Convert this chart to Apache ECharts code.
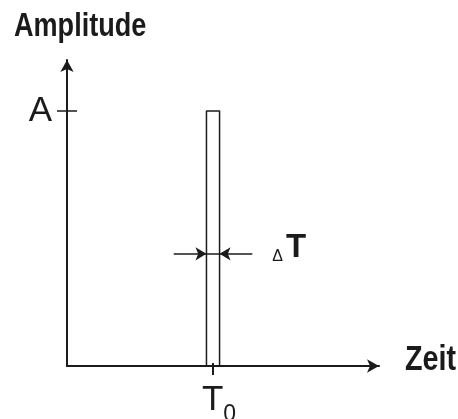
<!DOCTYPE html>
<html><head><meta charset="utf-8">
<script src="https://cdn.jsdelivr.net/npm/echarts@6/dist/echarts.min.js"></script>
<style>html,body{margin:0;padding:0;background:#fff}#c{width:458px;height:419px}</style>
</head><body><div id="c"></div><script>
// ---- data ----
const xRange = [0, 10];
const yRange = [0, 1.2];
const amplitude = 1.0;       // A
const t0 = 4.68;             // T0 (pulse centre)
const deltaT = 0.42;         // pulse width ΔT
const arrowLevel = 0.44;     // height of ΔT arrows
const arrowLength = 1.05;    // length of each ΔT arrow
const yTickLabels = ['A'];
const xTickLabels = ['T0'];
const axisTitles = ['Amplitude', 'Zeit'];
const deltaLabel = ['Δ', 'T'];

const FONT = '"Liberation Sans", Arial, sans-serif';
const INK = '#1b1b1b';

const left = t0 - deltaT / 2, right = t0 + deltaT / 2;
const pulse = [[left, 0], [left, amplitude], [right, amplitude], [right, 0]];

const chart = echarts.init(document.getElementById('c'), null, {renderer: 'canvas'});
chart.setOption({
  animation: false,
  backgroundColor: '#fff',
  grid: {left: 67, right: 79, top: 60, bottom: 53, containLabel: false, outerBoundsMode: 'none'},
  xAxis: [{
    type: 'value', min: xRange[0], max: xRange[1],
    axisLine: {show: true, symbol: ['none', 'arrow'], symbolSize: [10, 12], lineStyle: {color: INK, width: 2}},
    axisTick: {show: true, customValues: [t0], length: 9, lineStyle: {color: INK, width: 2}},
    axisLabel: {
      customValues: [t0], margin: 17, color: INK,
      formatter: () => '{t|' + xTickLabels[0][0] + '}{s|' + xTickLabels[0].slice(1) + '}',
      rich: {
        t: {fontFamily: FONT, fontSize: 35, color: INK, verticalAlign: 'top', padding: [0, 0, 0, 12]},
        s: {fontFamily: FONT, fontSize: 23, color: INK, verticalAlign: 'top', padding: [20, 0, 0, 0]}
      }
    },
    splitLine: {show: false}
  }, {
    type: 'value', min: xRange[0], max: xRange[1], position: 'bottom',
    axisLine: {show: false},
    axisTick: {show: true, inside: true, customValues: [t0], length: 3, lineStyle: {color: INK, width: 2}},
    axisLabel: {show: false}, splitLine: {show: false}
  }],
  yAxis: [{
    type: 'value', min: yRange[0], max: yRange[1],
    axisLine: {show: true, symbol: ['none', 'arrow'], symbolSize: [10, 12], lineStyle: {color: INK, width: 2}},
    axisTick: {show: true, customValues: [amplitude], length: 10, lineStyle: {color: INK, width: 1.5}},
    axisLabel: {customValues: [amplitude], margin: 15, color: INK, fontFamily: FONT, fontSize: 35,
      padding: [9, 0, 0, 0], formatter: () => yTickLabels[0]},
    splitLine: {show: false}
  }, {
    type: 'value', min: yRange[0], max: yRange[1], position: 'left',
    axisLine: {show: false},
    axisTick: {show: true, inside: true, customValues: [amplitude], length: 10, lineStyle: {color: INK, width: 1.5}},
    axisLabel: {show: false}, splitLine: {show: false}
  }],
  series: [{
    type: 'line', data: pulse, symbol: 'none', silent: true,
    lineStyle: {color: INK, width: 1.5},
    markLine: {
      silent: true, symbol: ['none', 'arrow'], symbolSize: [10, 11],
      lineStyle: {color: INK, width: 1.5, type: 'solid'},
      label: {show: false},
      data: [
        [{coord: [left - arrowLength, arrowLevel]}, {coord: [left, arrowLevel]}],
        [{coord: [right + arrowLength, arrowLevel],
          label: {show: true, position: 'start', distance: 20,
            formatter: () => '{d|' + deltaLabel[0] + '}{t|' + deltaLabel[1] + '}',
            rich: {
              d: {fontFamily: FONT, fontSize: 16, color: INK, verticalAlign: 'bottom', padding: [0, 3, 12, 0]},
              t: {fontFamily: FONT, fontSize: 33, fontWeight: 'bold', color: INK, verticalAlign: 'bottom', padding: [0, 0, 12, 0]}
            }}},
         {coord: [right, arrowLevel]}],
        [{coord: [left, arrowLevel], symbol: 'none'}, {coord: [right, arrowLevel], symbol: 'none'}]
      ]
    }
  }]
});

// axis titles (condensed like the original) anchored to the axis ends
const yTop = chart.convertToPixel({yAxisIndex: 0}, yRange[1]);
const xEnd = chart.convertToPixel({xAxisIndex: 0}, xRange[1]);
const xBase = chart.convertToPixel({yAxisIndex: 0}, yRange[0]);
const yAxisX = chart.convertToPixel({xAxisIndex: 0}, xRange[0]);
chart.setOption({
  graphic: [
    {type: 'text', x: yAxisX - 53, y: yTop - 33, scaleX: 0.82, silent: true,
     style: {text: axisTitles[0], font: 'bold 33px ' + FONT, fill: INK, align: 'left', verticalAlign: 'middle'}},
    {type: 'text', x: xEnd + 26, y: xBase - 6, scaleX: 0.82, silent: true,
     style: {text: axisTitles[1], font: 'bold 35px ' + FONT, fill: INK, align: 'left', verticalAlign: 'middle'}}
  ]
});
</script></body></html>
